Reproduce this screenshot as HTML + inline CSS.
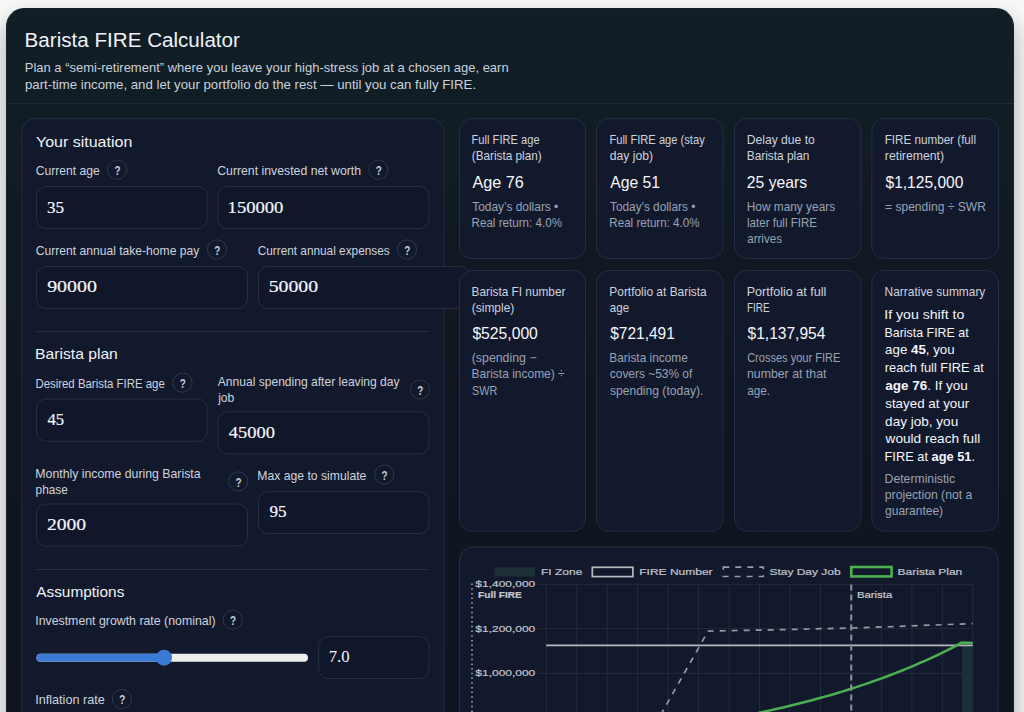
<!doctype html>
<html lang="en"><head><meta charset="utf-8"><title>Barista FIRE Calculator</title>
<style>
html,body{margin:0;padding:0}
body{width:1024px;height:712px;overflow:hidden;background:#f8f8f8;position:relative;font-family:"Liberation Sans",Arial,sans-serif}
#app{position:absolute;left:6px;top:8px;width:1008px;height:760px;border-radius:18px;
 box-sizing:border-box;border:1px solid #15222b;background:linear-gradient(180deg,#121e26 0px,#111d25 100px,#101923 250px,#101621 400px,#0f1420 704px) border-box;
 box-shadow:0 12px 24px rgba(0,0,0,.33)}
#hl{position:absolute;left:6px;top:103px;width:1008px;height:1px;background:#1e2a34}
.t{position:absolute;white-space:nowrap;line-height:1;transform-origin:0 50%}
.ss{font-family:"Liberation Sans",Arial,sans-serif}
.sf{font-family:"Liberation Serif","Times New Roman",serif}
.t b{font-weight:700}
#chart,#boxes{position:absolute;left:0;top:0}
</style></head>
<body>
<div id="app"></div><div id="hl"></div>
<svg id="boxes" width="1024" height="712" viewBox="0 0 1024 712">
<rect x="21.80" y="118.50" width="422.10" height="621.00" rx="13.5" fill="#13192c" stroke="#252d40"/>
<rect x="36.50" y="186.50" width="170.70" height="42.00" rx="9.5" fill="#11172a" stroke="#272f42"/>
<rect x="218.00" y="186.50" width="211.06" height="42.00" rx="9.5" fill="#11172a" stroke="#272f42"/>
<rect x="36.50" y="266.50" width="211.00" height="42.00" rx="9.5" fill="#11172a" stroke="#272f42"/>
<rect x="258.50" y="266.50" width="211.00" height="42.00" rx="9.5" fill="#11172a" stroke="#272f42"/>
<rect x="36.50" y="399.10" width="170.70" height="42.10" rx="9.5" fill="#11172a" stroke="#272f42"/>
<rect x="218.00" y="411.80" width="211.06" height="42.00" rx="9.5" fill="#11172a" stroke="#272f42"/>
<rect x="36.50" y="504.00" width="211.00" height="42.00" rx="9.5" fill="#11172a" stroke="#272f42"/>
<rect x="258.50" y="491.70" width="170.56" height="41.80" rx="9.5" fill="#11172a" stroke="#272f42"/>
<rect x="318.70" y="636.70" width="110.36" height="41.80" rx="9.5" fill="#11172a" stroke="#272f42"/>
<rect x="36" y="331" width="393.5" height="1" fill="#252d40"/>
<rect x="36" y="569" width="393.5" height="1" fill="#252d40"/>
<rect x="459.50" y="118.50" width="126.00" height="140.00" rx="12.5" fill="#13192c" stroke="#252d40"/>
<rect x="459.50" y="270.50" width="126.00" height="260.60" rx="12.5" fill="#13192c" stroke="#252d40"/>
<rect x="596.50" y="118.50" width="126.56" height="140.00" rx="12.5" fill="#13192c" stroke="#252d40"/>
<rect x="596.50" y="270.50" width="126.56" height="260.60" rx="12.5" fill="#13192c" stroke="#252d40"/>
<rect x="734.50" y="118.50" width="126.30" height="140.00" rx="12.5" fill="#13192c" stroke="#252d40"/>
<rect x="734.50" y="270.50" width="126.30" height="260.60" rx="12.5" fill="#13192c" stroke="#252d40"/>
<rect x="871.80" y="118.50" width="126.70" height="140.00" rx="12.5" fill="#13192c" stroke="#252d40"/>
<rect x="871.80" y="270.50" width="126.70" height="260.60" rx="12.5" fill="#13192c" stroke="#252d40"/>
<rect x="459.50" y="546.90" width="538.60" height="192.60" rx="13.5" fill="#13192c" stroke="#252d40"/>
<rect x="36.5" y="653.7" width="271.5" height="8" rx="4" fill="#efefef"/>
<rect x="36.5" y="653.7" width="130" height="8" rx="4" fill="#3b7bd6"/>
<circle cx="164" cy="657.7" r="8" fill="#3b7bd6"/>
<circle cx="117.2" cy="169.7" r="9.6" fill="none" stroke="#2f374a"/>
<circle cx="378.4" cy="169.7" r="9.6" fill="none" stroke="#2f374a"/>
<circle cx="217" cy="249.5" r="9.6" fill="none" stroke="#2f374a"/>
<circle cx="407" cy="249.5" r="9.6" fill="none" stroke="#2f374a"/>
<circle cx="182.5" cy="382.6" r="9.6" fill="none" stroke="#2f374a"/>
<circle cx="420" cy="389.5" r="9.6" fill="none" stroke="#2f374a"/>
<circle cx="238.25" cy="481.5" r="9.6" fill="none" stroke="#2f374a"/>
<circle cx="384.25" cy="474.6" r="9.6" fill="none" stroke="#2f374a"/>
<circle cx="232.75" cy="619.7" r="9.6" fill="none" stroke="#2f374a"/>
<circle cx="122" cy="699.1" r="9.6" fill="none" stroke="#2f374a"/>
</svg>
<svg id="chart" width="1024" height="712" viewBox="0 0 1024 712" font-family="Liberation Sans, Arial, sans-serif">
<line x1="538" y1="584.4" x2="972.8" y2="584.4" stroke="#232b3d" stroke-width="1"/>
<line x1="538" y1="628.65" x2="972.8" y2="628.65" stroke="#232b3d" stroke-width="1"/>
<line x1="538" y1="673.3" x2="972.8" y2="673.3" stroke="#232b3d" stroke-width="1"/>
<line x1="546.25" y1="584.4" x2="546.25" y2="712" stroke="#232b3d" stroke-width="1"/>
<line x1="576.72" y1="584.4" x2="576.72" y2="712" stroke="#232b3d" stroke-width="1"/>
<line x1="607.19" y1="584.4" x2="607.19" y2="712" stroke="#232b3d" stroke-width="1"/>
<line x1="637.65" y1="584.4" x2="637.65" y2="712" stroke="#232b3d" stroke-width="1"/>
<line x1="668.12" y1="584.4" x2="668.12" y2="712" stroke="#232b3d" stroke-width="1"/>
<line x1="698.59" y1="584.4" x2="698.59" y2="712" stroke="#232b3d" stroke-width="1"/>
<line x1="729.06" y1="584.4" x2="729.06" y2="712" stroke="#232b3d" stroke-width="1"/>
<line x1="759.52" y1="584.4" x2="759.52" y2="712" stroke="#232b3d" stroke-width="1"/>
<line x1="789.99" y1="584.4" x2="789.99" y2="712" stroke="#232b3d" stroke-width="1"/>
<line x1="820.46" y1="584.4" x2="820.46" y2="712" stroke="#232b3d" stroke-width="1"/>
<line x1="850.93" y1="584.4" x2="850.93" y2="712" stroke="#232b3d" stroke-width="1"/>
<line x1="881.40" y1="584.4" x2="881.40" y2="712" stroke="#232b3d" stroke-width="1"/>
<line x1="911.86" y1="584.4" x2="911.86" y2="712" stroke="#232b3d" stroke-width="1"/>
<line x1="942.33" y1="584.4" x2="942.33" y2="712" stroke="#232b3d" stroke-width="1"/>
<line x1="972.80" y1="584.4" x2="972.80" y2="712" stroke="#232b3d" stroke-width="1"/>
<rect x="962.1" y="645.4" width="10.70" height="70" fill="#1c2f36"/>
<line x1="546.25" y1="645.35" x2="972.8" y2="645.35" stroke="#b6b8be" stroke-width="1.6"/>
<polyline points="660.6,715 708.1,631.1 780,629.7 851.25,628.0 910,626.0 972.8,623.5" fill="none" stroke="#969aa2" stroke-width="1.7" stroke-dasharray="6 6" stroke-linejoin="round"/>
<polyline points="758,712.94 764,711.68 770,710.37 776,709.04 782,707.66 788,706.25 794,704.79 800,703.3 806,701.77 812,700.19 818,698.57 824,696.9 830,695.19 836,693.43 842,691.62 848,689.76 854,687.85 860,685.88 866,683.86 872,681.79 878,679.65 884,677.46 890,675.21 896,672.89 902,670.51 908,668.06 914,665.55 920,662.96 926,660.31 932,657.58 938,654.77 944,651.89 950,648.92 956,645.87 962.1,642.4 972.8,643.1" fill="none" stroke="#4caf50" stroke-width="2.5" stroke-linejoin="round"/>
<line x1="851.25" y1="584.4" x2="851.25" y2="712" stroke="#8f929b" stroke-width="2" stroke-dasharray="6 4"/>
<line x1="472" y1="583.5" x2="472" y2="712" stroke="#a6a9b1" stroke-width="1.6" stroke-dasharray="1.5 3.2"/>
<rect x="494.5" y="567.2" width="40.5" height="9.4" fill="#1c2f36"/>
<rect x="592.3" y="567.3" width="40.6" height="9.3" fill="none" stroke="#b6b8be" stroke-width="1.7"/>
<rect x="723.3" y="567.2" width="40" height="9.3" fill="none" stroke="#969aa2" stroke-width="1.7" stroke-dasharray="6 6"/>
<rect x="851.3" y="567" width="40.3" height="9.4" fill="none" stroke="#4caf50" stroke-width="2.6"/>
<text transform="translate(541,574.6) scale(1,0.83)" font-size="12" font-weight="400" fill="#c0c4cc" stroke="#c0c4cc" stroke-width="0.25" text-anchor="start">FI Zone</text>
<text transform="translate(639.3,574.6) scale(1,0.83)" font-size="12" font-weight="400" fill="#c0c4cc" stroke="#c0c4cc" stroke-width="0.25" text-anchor="start">FIRE Number</text>
<text transform="translate(769.4,574.6) scale(1,0.83)" font-size="12" font-weight="400" fill="#c0c4cc" stroke="#c0c4cc" stroke-width="0.25" text-anchor="start">Stay Day Job</text>
<text transform="translate(897.6,574.6) scale(1,0.83)" font-size="12" font-weight="400" fill="#c0c4cc" stroke="#c0c4cc" stroke-width="0.25" text-anchor="start">Barista Plan</text>
<text transform="translate(535.3,587.3) scale(1,0.83)" font-size="12" font-weight="400" fill="#c0c4cc" stroke="#c0c4cc" stroke-width="0.25" text-anchor="end">$1,400,000</text>
<text transform="translate(535.3,631.8) scale(1,0.83)" font-size="12" font-weight="400" fill="#c0c4cc" stroke="#c0c4cc" stroke-width="0.25" text-anchor="end">$1,200,000</text>
<text transform="translate(535.3,676.0) scale(1,0.83)" font-size="12" font-weight="400" fill="#c0c4cc" stroke="#c0c4cc" stroke-width="0.25" text-anchor="end">$1,000,000</text>
<text transform="translate(478.1,598.2) scale(1,0.83)" font-size="12" font-weight="700" fill="#c4c7cf" stroke="#c4c7cf" stroke-width="0.25" text-anchor="start" textLength="43.7" lengthAdjust="spacingAndGlyphs">Full FIRE</text>
<text transform="translate(856.9,598.3) scale(1,0.83)" font-size="12" font-weight="400" fill="#c9ccd4" stroke="#c9ccd4" stroke-width="0.25" text-anchor="start" textLength="35.3" lengthAdjust="spacingAndGlyphs">Barista</text>
</svg>
<span class="t ss" style="left:24px;top:31px;font-size:19.5px;color:#eef2f7;transform:translateX(0.58px) scaleX(1.0570)">Barista FIRE Calculator</span>
<span class="t ss" style="left:24px;top:61px;font-size:13.6px;color:#c9d1dc;transform:translateX(0.72px) scaleX(0.9559)">Plan a “semi-retirement” where you leave your high-stress job at a chosen age, earn</span>
<span class="t ss" style="left:24px;top:78px;font-size:13.6px;color:#c9d1dc;transform:translateX(0.95px) scaleX(0.9724)">part-time income, and let your portfolio do the rest — until you can fully FIRE.</span>
<span class="t ss" style="left:35px;top:135px;font-size:14.6px;color:#eef2f7;transform:translateX(0.99px) scaleX(1.0955)">Your situation</span>
<span class="t ss" style="left:35px;top:165px;font-size:12.6px;color:#cdd3de;transform:translateX(0.70px) scaleX(0.9637)">Current age</span>
<span class="t ss" style="left:217px;top:165px;font-size:12.6px;color:#cdd3de;transform:translateX(0.19px) scaleX(0.9744)">Current invested net worth</span>
<span class="t ss" style="left:35px;top:245px;font-size:12.6px;color:#cdd3de;transform:translateX(0.70px) scaleX(0.9617)">Current annual take-home pay</span>
<span class="t ss" style="left:257px;top:245px;font-size:12.6px;color:#cdd3de;transform:translateX(0.71px) scaleX(0.9375)">Current annual expenses</span>
<span class="t ss" style="left:35px;top:347px;font-size:14.6px;color:#eef2f7;transform:translateX(0.09px) scaleX(1.0733)">Barista plan</span>
<span class="t ss" style="left:35px;top:378px;font-size:12.6px;color:#cdd3de;transform:translateX(0.39px) scaleX(0.9062)">Desired Barista FIRE age</span>
<span class="t ss" style="left:217px;top:376px;font-size:12.6px;color:#cdd3de;transform:translateX(0.80px) scaleX(0.9578)">Annual spending after leaving day</span>
<span class="t ss" style="left:218px;top:392px;font-size:12.6px;color:#cdd3de;transform:translateX(0.16px) scaleX(0.9624)">job</span>
<span class="t ss" style="left:35px;top:468px;font-size:12.6px;color:#cdd3de;transform:translateX(0.32px) scaleX(0.9755)">Monthly income during Barista</span>
<span class="t ss" style="left:35px;top:484px;font-size:12.6px;color:#cdd3de;transform:translateX(0.60px) scaleX(0.9394)">phase</span>
<span class="t ss" style="left:257px;top:470px;font-size:12.6px;color:#cdd3de;transform:translateX(0.33px) scaleX(0.9674)">Max age to simulate</span>
<span class="t ss" style="left:36px;top:585px;font-size:14.6px;color:#eef2f7;transform:translateX(0.17px) scaleX(1.0558)">Assumptions</span>
<span class="t ss" style="left:35px;top:615px;font-size:12.6px;color:#cdd3de;transform:translateX(0.20px) scaleX(0.9794)">Investment growth rate (nominal)</span>
<span class="t ss" style="left:35px;top:694px;font-size:12.6px;color:#cdd3de;transform:translateX(0.17px) scaleX(1.0055)">Inflation rate</span>
<span class="t sf" style="left:47px;top:199px;font-size:17px;color:#f3f6fa;transform:translateX(0.05px) scaleX(1.0016);-webkit-text-stroke:0.18px #f3f6fa">35</span>
<span class="t sf" style="left:227px;top:199px;font-size:17px;color:#f3f6fa;transform:translateX(0.61px) scaleX(1.0936);-webkit-text-stroke:0.18px #f3f6fa">150000</span>
<span class="t sf" style="left:47px;top:278px;font-size:17px;color:#f3f6fa;transform:translateX(0.16px) scaleX(1.1710);-webkit-text-stroke:0.18px #f3f6fa">90000</span>
<span class="t sf" style="left:268px;top:278px;font-size:17px;color:#f3f6fa;transform:translateX(0.64px) scaleX(1.1621);-webkit-text-stroke:0.18px #f3f6fa">50000</span>
<span class="t sf" style="left:47px;top:411px;font-size:17px;color:#f3f6fa;transform:translateX(0.43px) scaleX(0.9781);-webkit-text-stroke:0.18px #f3f6fa">45</span>
<span class="t sf" style="left:228px;top:424px;font-size:17px;color:#f3f6fa;transform:translateX(0.84px) scaleX(1.0831);-webkit-text-stroke:0.18px #f3f6fa">45000</span>
<span class="t sf" style="left:46px;top:516px;font-size:17px;color:#f3f6fa;transform:translateX(0.88px) scaleX(1.1556);-webkit-text-stroke:0.18px #f3f6fa">2000</span>
<span class="t sf" style="left:269px;top:503px;font-size:17px;color:#f3f6fa;transform:translateX(0.50px) scaleX(1.0047);-webkit-text-stroke:0.18px #f3f6fa">95</span>
<span class="t sf" style="left:328px;top:648px;font-size:17px;color:#f3f6fa;transform:translateX(0.64px) scaleX(0.9846)">7.0</span>
<span class="t ss" style="left:471px;top:134px;font-size:12.1px;color:#cdd3de;transform:translateX(0.58px) scaleX(0.9195)">Full FIRE age</span>
<span class="t ss" style="left:471px;top:150px;font-size:12.1px;color:#cdd3de;transform:translateX(0.77px) scaleX(0.9723)">(Barista plan)</span>
<span class="t ss" style="left:472px;top:174px;font-size:16.5px;color:#f3f6fa;transform:translateX(0.38px) scaleX(0.9816)">Age 76</span>
<span class="t ss" style="left:472px;top:201px;font-size:12.1px;color:#98a2b5;transform:translateX(0.25px) scaleX(0.9847)">Today’s dollars •</span>
<span class="t ss" style="left:471px;top:217px;font-size:12.1px;color:#98a2b5;transform:translateX(0.54px) scaleX(0.9614)">Real return: 4.0%</span>
<span class="t ss" style="left:609px;top:134px;font-size:12.1px;color:#cdd3de;transform:translateX(0.38px) scaleX(0.9210)">Full FIRE age (stay</span>
<span class="t ss" style="left:609px;top:150px;font-size:12.1px;color:#cdd3de;transform:translateX(0.80px) scaleX(1.0060)">day job)</span>
<span class="t ss" style="left:610px;top:174px;font-size:16.5px;color:#f3f6fa;transform:translateX(0.18px) scaleX(0.9538)">Age 51</span>
<span class="t ss" style="left:610px;top:201px;font-size:12.1px;color:#98a2b5;transform:translateX(0.06px) scaleX(0.9755)">Today’s dollars •</span>
<span class="t ss" style="left:609px;top:217px;font-size:12.1px;color:#98a2b5;transform:translateX(0.34px) scaleX(0.9576)">Real return: 4.0%</span>
<span class="t ss" style="left:746px;top:134px;font-size:12.1px;color:#cdd3de;transform:translateX(0.70px) scaleX(1.0034)">Delay due to</span>
<span class="t ss" style="left:746px;top:150px;font-size:12.1px;color:#cdd3de;transform:translateX(0.72px) scaleX(0.9819)">Barista plan</span>
<span class="t ss" style="left:746px;top:174px;font-size:16.5px;color:#f3f6fa;transform:translateX(0.87px) scaleX(0.9511)">25 years</span>
<span class="t ss" style="left:746px;top:201px;font-size:12.1px;color:#98a2b5;transform:translateX(0.72px) scaleX(0.9817)">How many years</span>
<span class="t ss" style="left:746px;top:217px;font-size:12.1px;color:#98a2b5;transform:translateX(0.98px) scaleX(0.9563)">later full FIRE</span>
<span class="t ss" style="left:747px;top:233px;font-size:12.1px;color:#98a2b5;transform:translateX(0.22px) scaleX(0.9569)">arrives</span>
<span class="t ss" style="left:884px;top:134px;font-size:12.1px;color:#cdd3de;transform:translateX(0.64px) scaleX(0.9645)">FIRE number (full</span>
<span class="t ss" style="left:884px;top:150px;font-size:12.1px;color:#cdd3de;transform:translateX(0.84px) scaleX(1.0123)">retirement)</span>
<span class="t ss" style="left:885px;top:174px;font-size:16.5px;color:#f3f6fa;transform:translateX(0.48px) scaleX(0.9429)">$1,125,000</span>
<span class="t ss" style="left:884px;top:201px;font-size:12.1px;color:#98a2b5;transform:translateX(0.98px) scaleX(0.9982)">= spending ÷ SWR</span>
<span class="t ss" style="left:471px;top:286px;font-size:12.1px;color:#cdd3de;transform:translateX(0.52px) scaleX(0.9768)">Barista FI number</span>
<span class="t ss" style="left:471px;top:302px;font-size:12.1px;color:#cdd3de;transform:translateX(0.76px) scaleX(0.9892)">(simple)</span>
<span class="t ss" style="left:472px;top:325px;font-size:16.5px;color:#f3f6fa;transform:translateX(0.38px) scaleX(0.9512)">$525,000</span>
<span class="t ss" style="left:471px;top:352px;font-size:12.1px;color:#98a2b5;transform:translateX(0.73px) scaleX(1.0209)">(spending −</span>
<span class="t ss" style="left:471px;top:368px;font-size:12.1px;color:#98a2b5;transform:translateX(0.51px) scaleX(0.9911)">Barista income) ÷</span>
<span class="t ss" style="left:472px;top:385px;font-size:12.1px;color:#98a2b5;transform:translateX(0.05px) scaleX(0.8959)">SWR</span>
<span class="t ss" style="left:609px;top:286px;font-size:12.1px;color:#cdd3de;transform:translateX(0.31px) scaleX(0.9860)">Portfolio at Barista</span>
<span class="t ss" style="left:609px;top:302px;font-size:12.1px;color:#cdd3de;transform:translateX(0.82px) scaleX(0.9542)">age</span>
<span class="t ss" style="left:610px;top:325px;font-size:16.5px;color:#f3f6fa;transform:translateX(0.18px) scaleX(0.9392)">$721,491</span>
<span class="t ss" style="left:609px;top:352px;font-size:12.1px;color:#98a2b5;transform:translateX(0.32px) scaleX(0.9809)">Barista income</span>
<span class="t ss" style="left:609px;top:368px;font-size:12.1px;color:#98a2b5;transform:translateX(0.81px) scaleX(0.9850)">covers ~53% of</span>
<span class="t ss" style="left:609px;top:385px;font-size:12.1px;color:#98a2b5;transform:translateX(0.92px) scaleX(1.0000)">spending (today).</span>
<span class="t ss" style="left:746px;top:286px;font-size:12.1px;color:#cdd3de;transform:translateX(0.66px) scaleX(1.0391)">Portfolio at full</span>
<span class="t ss" style="left:746px;top:302px;font-size:12.1px;color:#cdd3de;transform:translateX(0.88px) scaleX(0.8231)">FIRE</span>
<span class="t ss" style="left:747px;top:325px;font-size:16.5px;color:#f3f6fa;transform:translateX(0.58px) scaleX(0.9415)">$1,137,954</span>
<span class="t ss" style="left:747px;top:352px;font-size:12.1px;color:#98a2b5;transform:translateX(0.13px) scaleX(0.9129)">Crosses your FIRE</span>
<span class="t ss" style="left:746px;top:368px;font-size:12.1px;color:#98a2b5;transform:translateX(0.94px) scaleX(1.0191)">number at that</span>
<span class="t ss" style="left:747px;top:385px;font-size:12.1px;color:#98a2b5;transform:translateX(0.21px) scaleX(0.9727)">age.</span>
<span class="t ss" style="left:884px;top:286px;font-size:12.1px;color:#cdd3de;transform:translateX(0.61px) scaleX(0.9859)">Narrative summary</span>
<span class="t ss" style="left:884px;top:308px;font-size:13.2px;color:#f3f6fa;transform:translateX(0.26px) scaleX(1.0699)">If you shift to</span>
<span class="t ss" style="left:884px;top:326px;font-size:13.2px;color:#f3f6fa;transform:translateX(0.54px) scaleX(0.9405)">Barista FIRE at</span>
<span class="t ss" style="left:885px;top:343px;font-size:13.2px;color:#f3f6fa;transform:translateX(0.10px) scaleX(1.0085)">age <b>45</b>, you</span>
<span class="t ss" style="left:884px;top:361px;font-size:13.2px;color:#f3f6fa;transform:translateX(0.75px) scaleX(0.9725)">reach full FIRE at</span>
<span class="t ss" style="left:885px;top:379px;font-size:13.2px;color:#f3f6fa;transform:translateX(0.22px) scaleX(1.0230)"><b>age 76</b>. If you</span>
<span class="t ss" style="left:885px;top:397px;font-size:13.2px;color:#f3f6fa;transform:translateX(0.22px) scaleX(1.0128)">stayed at your</span>
<span class="t ss" style="left:885px;top:415px;font-size:13.2px;color:#f3f6fa;transform:translateX(0.09px) scaleX(1.0280)">day job, you</span>
<span class="t ss" style="left:885px;top:432px;font-size:13.2px;color:#f3f6fa;transform:translateX(0.60px) scaleX(1.0325)">would reach full</span>
<span class="t ss" style="left:884px;top:450px;font-size:13.2px;color:#f3f6fa;transform:translateX(0.51px) scaleX(0.9719)">FIRE at <b>age 51</b>.</span>
<span class="t ss" style="left:884px;top:473px;font-size:12.1px;color:#98a2b5;transform:translateX(0.59px) scaleX(1.0098)">Deterministic</span>
<span class="t ss" style="left:884px;top:489px;font-size:12.1px;color:#98a2b5;transform:translateX(0.84px) scaleX(1.0081)">projection (not a</span>
<span class="t ss" style="left:885px;top:505px;font-size:12.1px;color:#98a2b5;transform:translateX(0.10px) scaleX(0.9904)">guarantee)</span>
<span class="t ss" style="left:114px;top:165px;font-size:12.6px;color:#c9ced9;font-weight:700;transform:translateX(0.56px) scaleX(0.7843)">?</span>
<span class="t ss" style="left:375px;top:165px;font-size:12.6px;color:#c9ced9;font-weight:700;transform:translateX(0.76px) scaleX(0.7843)">?</span>
<span class="t ss" style="left:214px;top:245px;font-size:12.6px;color:#c9ced9;font-weight:700;transform:translateX(0.36px) scaleX(0.7843)">?</span>
<span class="t ss" style="left:404px;top:245px;font-size:12.6px;color:#c9ced9;font-weight:700;transform:translateX(0.36px) scaleX(0.7843)">?</span>
<span class="t ss" style="left:179px;top:378px;font-size:12.6px;color:#c9ced9;font-weight:700;transform:translateX(0.86px) scaleX(0.7843)">?</span>
<span class="t ss" style="left:417px;top:385px;font-size:12.6px;color:#c9ced9;font-weight:700;transform:translateX(0.36px) scaleX(0.7843)">?</span>
<span class="t ss" style="left:235px;top:477px;font-size:12.6px;color:#c9ced9;font-weight:700;transform:translateX(0.61px) scaleX(0.7843)">?</span>
<span class="t ss" style="left:381px;top:470px;font-size:12.6px;color:#c9ced9;font-weight:700;transform:translateX(0.61px) scaleX(0.7843)">?</span>
<span class="t ss" style="left:230px;top:615px;font-size:12.6px;color:#c9ced9;font-weight:700;transform:translateX(0.11px) scaleX(0.7843)">?</span>
<span class="t ss" style="left:119px;top:694px;font-size:12.6px;color:#c9ced9;font-weight:700;transform:translateX(0.36px) scaleX(0.7843)">?</span>
</body></html>
